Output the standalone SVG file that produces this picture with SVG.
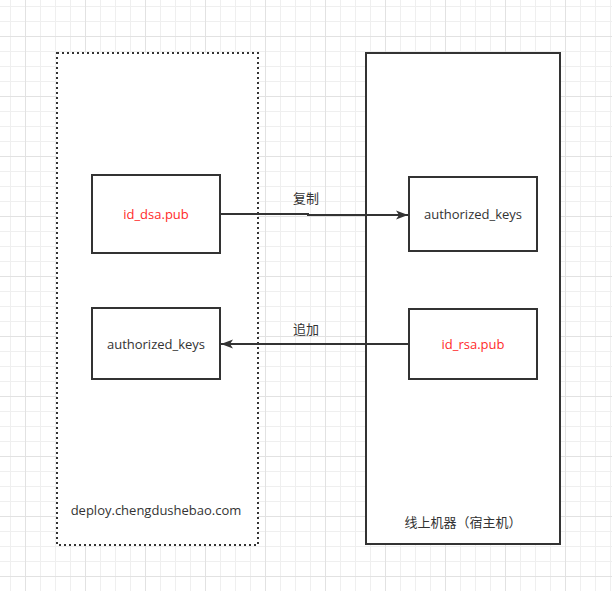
<svg xmlns="http://www.w3.org/2000/svg" width="612" height="591" viewBox="0 0 612 591">
  <defs>
    <pattern id="grid" patternUnits="userSpaceOnUse" x="25" y="36" width="60" height="60">
      <rect x="0" y="0" width="60" height="60" fill="#ffffff"/>
      <g fill="#efefef">
        <rect x="15" y="0" width="1" height="60"/>
        <rect x="30" y="0" width="1" height="60"/>
        <rect x="45" y="0" width="1" height="60"/>
        <rect x="0" y="15" width="60" height="1"/>
        <rect x="0" y="30" width="60" height="1"/>
        <rect x="0" y="45" width="60" height="1"/>
      </g>
      <g fill="#e2e2e2">
        <rect x="0" y="0" width="1" height="60"/>
        <rect x="0" y="0" width="60" height="1"/>
      </g>
    </pattern>
    <marker id="arrow" markerWidth="14" markerHeight="12" refX="12" refY="6" orient="auto" markerUnits="userSpaceOnUse">
      <path d="M0,1.5 L12,6 L0,10.5 L3,6 Z" fill="#333333"/>
    </marker>
  </defs>
  <style>
    .box { fill: #ffffff; stroke: #333333; stroke-width: 2; }
    .dotted { fill: #ffffff; stroke: #333333; stroke-width: 2; stroke-dasharray: 2 3; }
    .edge { fill: none; stroke: #333333; stroke-width: 2; marker-end: url(#arrow); }
    text { font-family: "Open Sans", "Noto Sans CJK SC", sans-serif; font-size: 13px; fill: #333333; text-anchor: middle; }
    .red { fill: #ff2a2a; }
  </style>
  <rect x="0" y="0" width="612" height="591" fill="url(#grid)"/>

  <g id="deploy-host">
    <rect class="dotted" x="57" y="53" width="201" height="492"/>
    <text x="156" y="515">deploy.chengdushebao.com</text>
  </g>
  <g id="online-host">
    <rect class="box" x="366" y="53" width="194" height="491"/>
    <text x="463" y="527">线上机器（宿主机）</text>
  </g>

  <g id="id_dsa_pub">
    <rect class="box" x="92" y="175" width="128" height="78"/>
    <text class="red" x="156" y="219">id_dsa.pub</text>
  </g>
  <g id="authorized_keys_left">
    <rect class="box" x="92" y="308" width="128" height="71"/>
    <text x="156" y="349">authorized_keys</text>
  </g>
  <g id="authorized_keys_right">
    <rect class="box" x="409" y="177" width="128" height="74"/>
    <text x="473" y="219">authorized_keys</text>
  </g>
  <g id="id_rsa_pub">
    <rect class="box" x="409" y="309" width="128" height="70"/>
    <text class="red" x="473" y="349">id_rsa.pub</text>
  </g>

  <g id="connectors">
    <path class="edge" d="M220,214 L308,214 L308,215 L408,215"/>
    <text x="306" y="203">复制</text>
    <path class="edge" d="M409,344 L221,344"/>
    <text x="306" y="334">追加</text>
  </g>
</svg>
